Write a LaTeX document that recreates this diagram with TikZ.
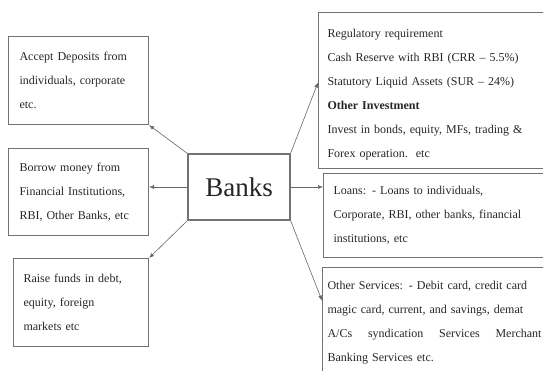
\documentclass[tikz,border=0pt]{standalone}
\usepackage{fontspec}
\setmainfont{Liberation Serif}
\usetikzlibrary{arrows.meta}

\begin{document}
\begin{tikzpicture}[x=1pt,y=-1pt,
    infobox/.style={draw=black!55,line width=1.1pt,rectangle,anchor=north west,
      align=left,inner xsep=9pt,text=black!85,font=\fontsize{12}{24}\selectfont},
    link/.style={draw=black!60,line width=0.6pt,-{Latex[length=5pt,width=4pt]}}]

    \useasboundingbox (0,0) rectangle (543,370);

    % Centre node
    \node[draw=black!55,line width=1.1pt,minimum width=102pt,minimum height=66pt,
      text=black!85,font=\fontsize{27}{30}\selectfont] (banks) at (239,187) {Banks};

    % Left column
    \node[infobox,inner xsep=11pt,minimum width=140pt,minimum height=88pt,text width=118pt] (dep) at (8,36)
      {Accept Deposits from\\individuals, corporate\\etc.};
    \node[infobox,inner xsep=11pt,minimum width=140pt,minimum height=87pt,text width=118pt] (bor) at (8,148)
      {Borrow money from\\Financial Institutions,\\RBI, Other Banks, etc};
    \node[infobox,inner xsep=10pt,minimum width=135pt,minimum height=88pt,text width=115pt] (rai) at (13,258)
      {Raise funds in debt,\\equity, foreign\\markets etc};

    % Right column (runs past the page edge)
    \node[infobox,minimum width=258pt,minimum height=156pt,text width=240pt] (reg) at (318,12)
      {\rule{0pt}{17pt}Regulatory requirement\\Cash Reserve with RBI (CRR -- 5.5\%)\\Statutory Liquid Assets (SUR -- 24\%)\\
       \textbf{Other Investment}\\Invest in bonds, equity, MFs, trading \&\\Forex operation.\ \ etc};
    \node[infobox,inner xsep=10pt,minimum width=250pt,minimum height=84pt,text width=230pt] (loan) at (323,173)
      {Loans: - Loans to individuals,\\Corporate, RBI, other banks, financial\\institutions, etc};
    \node[infobox,inner xsep=5pt,minimum width=250pt,minimum height=110pt,text width=240pt] (serv) at (322,267)
      {Other Services: - Debit card, credit card\\magic card, current, and savings, demat\\
       \makebox[214pt][l]{A/Cs\hfill syndication\hfill Services\hfill Merchant}\\Banking Services etc.};

    % Connectors
    \draw[link] (banks.north west) -- (dep.south east);
    \draw[link] (banks.west) -- (banks.west -| bor.east);
    \draw[link] (banks.south west) -- (rai.north east);
    \draw[link] (banks.north east) -- ([yshift=8pt]reg.west);
    \draw[link] (banks.east) -- (banks.east -| loan.west);
    \draw[link] (banks.south east) -- ([yshift=22pt]serv.west);

  \end{tikzpicture}
\end{document}
